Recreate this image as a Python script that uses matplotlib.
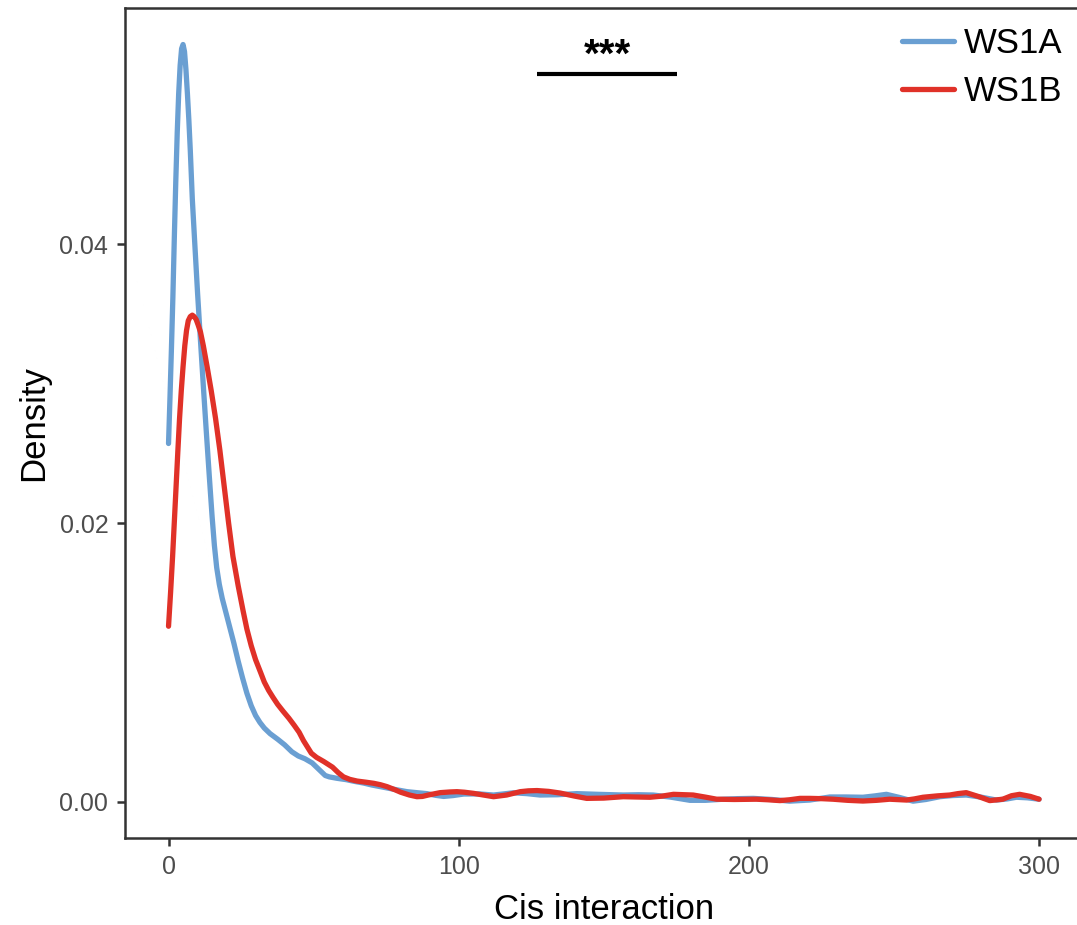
import matplotlib
matplotlib.use("Agg")
import matplotlib.pyplot as plt

plt.rcParams["font.family"] = ["Liberation Sans", "DejaVu Sans"]

# Density estimates of cis interaction counts for the two samples
ws1a_x = [0, 0.5, 1.0, 1.5, 2.0, 2.5, 3.0, 3.5, 4.0, 4.5, 5.0, 5.5, 6.0, 6.5, 7.0,
          7.5, 8.2, 9.0, 10.0, 11.0, 12.0, 13.0, 14.0, 15.0, 15.8, 16.6, 17.5,
          18.5, 19.5, 21.0, 22.5, 24.0, 25.5, 27.0, 28.5, 30.0, 31.5, 33.0, 35.0,
          37.6, 40.0, 42.5, 44.7, 47.0, 49.5, 51.0, 52.5, 54.0, 55.4, 58.0, 61.3,
          64.0, 67.2, 70.0, 73.0, 78.0, 82.2, 86.0, 89.0, 92.0, 94.8, 98.0, 101.7,
          107.0, 112.0, 115.5, 118.8, 123.5, 128.0, 134.0, 140.7, 148.0, 156.7,
          162.0, 167.0, 173.0, 179.7, 185.0, 191.2, 196.0, 201.5, 208.0, 214.0,
          221.0, 227.9, 233.5, 239.3, 243.5, 247.4, 252.0, 256.6, 261.0, 265.8,
          270.0, 274.9, 280.0, 285.3, 289.0, 292.2, 296.0, 300.0]
ws1a_y = [0.0257, 0.0290, 0.0325, 0.0362, 0.0405, 0.0445, 0.0480, 0.0508, 0.0528,
          0.0540, 0.0543, 0.0538, 0.0525, 0.0508, 0.0489, 0.0467, 0.0432, 0.0402,
          0.0365, 0.0331, 0.0298, 0.0266, 0.0235, 0.0205, 0.0184, 0.0168, 0.0156,
          0.0146, 0.0138, 0.0126, 0.0114, 0.0101, 0.0089, 0.0078, 0.0069, 0.0062,
          0.0057, 0.0053, 0.0049, 0.0045, 0.0041, 0.0036, 0.0033, 0.0031, 0.0028,
          0.0025, 0.0022, 0.0019, 0.0018, 0.0017, 0.0016, 0.00148, 0.00136,
          0.00122, 0.0011, 0.0009, 0.00074, 0.00066, 0.00060, 0.00048, 0.00040,
          0.00046, 0.00057, 0.00058, 0.0005, 0.00058, 0.00066, 0.00060, 0.0005,
          0.00052, 0.00060, 0.00055, 0.0005, 0.00052, 0.0005, 0.00035, 0.00012,
          0.00012, 0.0002, 0.00024, 0.00026, 0.00018, 0.00006, 0.00014, 0.00036,
          0.00036, 0.00034, 0.00044, 0.00055, 0.00032, 0.00006, 0.00018, 0.00038,
          0.00046, 0.0005, 0.00035, 0.00014, 0.00022, 0.00034, 0.00030, 0.0002]

ws1b_x = [0, 0.7, 1.4, 2.0, 2.6, 3.2, 3.8, 4.4, 5.0, 5.6, 6.2, 6.8, 7.5, 8.2, 8.8,
          9.5, 10.2, 11.0, 12.0, 13.3, 14.7, 16.2, 17.7, 19.2, 20.7, 22.2, 24.0,
          25.7, 27.0, 28.5, 30.0, 31.7, 33.0, 34.5, 36.0, 37.6, 39.5, 41.5, 43.3,
          45.0, 46.5, 48.0, 49.2, 51.0, 53.5, 55.0, 56.5, 58.5, 60.3, 62.5, 65.0,
          68.0, 70.7, 73.0, 75.3, 78.0, 80.0, 83.0, 85.6, 87.5, 89.5, 93.6, 97.0,
          99.4, 102.0, 105.1, 108.5, 112.0, 116.5, 121.2, 124.0, 127.0, 131.0,
          135.0, 140.0, 144.1, 150.0, 156.7, 161.0, 165.9, 170.0, 174.0, 180.8,
          185.0, 188.9, 195.0, 202.6, 206.5, 210.7, 214.0, 217.6, 221.0, 225.0,
          229.0, 234.0, 239.3, 244.0, 248.5, 254.3, 257.0, 260.0, 265.0, 269.2,
          272.0, 274.9, 279.0, 283.0, 287.5, 290.5, 293.3, 297.0, 300.0]
ws1b_y = [0.0126, 0.0150, 0.0176, 0.0201, 0.0226, 0.0251, 0.0275, 0.0295, 0.0312,
          0.0327, 0.0338, 0.0345, 0.0348, 0.0349, 0.0348, 0.0346, 0.0342, 0.0337,
          0.0327, 0.0312, 0.0295, 0.0275, 0.0252, 0.0226, 0.0200, 0.0176, 0.0155,
          0.0137, 0.0124, 0.0112, 0.0102, 0.0093, 0.0086, 0.0080, 0.0075, 0.0070,
          0.0065, 0.0060, 0.0055, 0.0050, 0.0044, 0.0039, 0.0035, 0.0032, 0.0029,
          0.0027, 0.0025, 0.0021, 0.0018, 0.00162, 0.0015, 0.00142, 0.00134,
          0.00124, 0.0011, 0.00088, 0.0007, 0.00050, 0.00038, 0.00040, 0.00050,
          0.00067, 0.00072, 0.00074, 0.00070, 0.00062, 0.00050, 0.00038, 0.00050,
          0.00074, 0.00080, 0.00082, 0.00076, 0.00064, 0.00042, 0.00026, 0.00028,
          0.00038, 0.00036, 0.00034, 0.00042, 0.00055, 0.0005, 0.00035, 0.0002,
          0.00018, 0.0002, 0.00016, 0.0001, 0.00016, 0.00026, 0.00026, 0.00024,
          0.0002, 0.00012, 0.00007, 0.00012, 0.0002, 0.00014, 0.00022, 0.00034,
          0.00044, 0.0005, 0.00060, 0.00067, 0.00040, 0.0001, 0.0002, 0.00045,
          0.00055, 0.00040, 0.0002]

series_names = ["WS1A", "WS1B"]
series_colors = ["#6A9FD2", "#E03128"]

x_ticks = [0, 100, 200, 300]
x_tick_labels = ["0", "100", "200", "300"]
y_ticks = [0.00, 0.02, 0.04]
y_tick_labels = ["0.00", "0.02", "0.04"]

signif_label = "***"
signif_x = [127, 175.2]
signif_y = 0.0522

fig = plt.figure(figsize=(10.77, 9.25), dpi=100)
ax = fig.add_axes([0.11607, 0.09405, 0.88913, 0.8973])

for xs, ys, name, col in zip([ws1a_x, ws1b_x], [ws1a_y, ws1b_y], series_names, series_colors):
    ax.plot(xs, ys, color=col, lw=3.8, label=name, solid_joinstyle="round",
            solid_capstyle="round")

# significance bracket
ax.plot(signif_x, [signif_y, signif_y], color="black", lw=3.0, solid_capstyle="butt")
ax.text(sum(signif_x) / 2, signif_y - 0.00005, signif_label, ha="center", va="bottom",
        fontsize=29, fontweight="bold")

ax.set_xlim(-15, 315)
ax.set_ylim(-0.002581, 0.056918)
ax.set_xticks(x_ticks)
ax.set_xticklabels(x_tick_labels)
ax.set_yticks(y_ticks)
ax.set_yticklabels(y_tick_labels)

for sp in ax.spines.values():
    sp.set_color("#333333")
    sp.set_linewidth(1.8)

ax.tick_params(axis="both", which="major", length=6, width=1.8, color="#333333",
               labelcolor="#4D4D4D", labelsize=18, pad=6)

ax.set_xlabel("Cis interaction", fontsize=25, labelpad=10)
ax.set_ylabel("Density", fontsize=25, labelpad=7)

leg = fig.legend(*ax.get_legend_handles_labels(), loc="upper right",
                 bbox_to_anchor=(1062 / 1077, 1 - 27 / 925), frameon=False,
                 fontsize=25, handlelength=1.5, handletextpad=0.26, labelspacing=0.43,
                 borderaxespad=0, borderpad=0)

fig.savefig("out.png", dpi=100, facecolor="white")
